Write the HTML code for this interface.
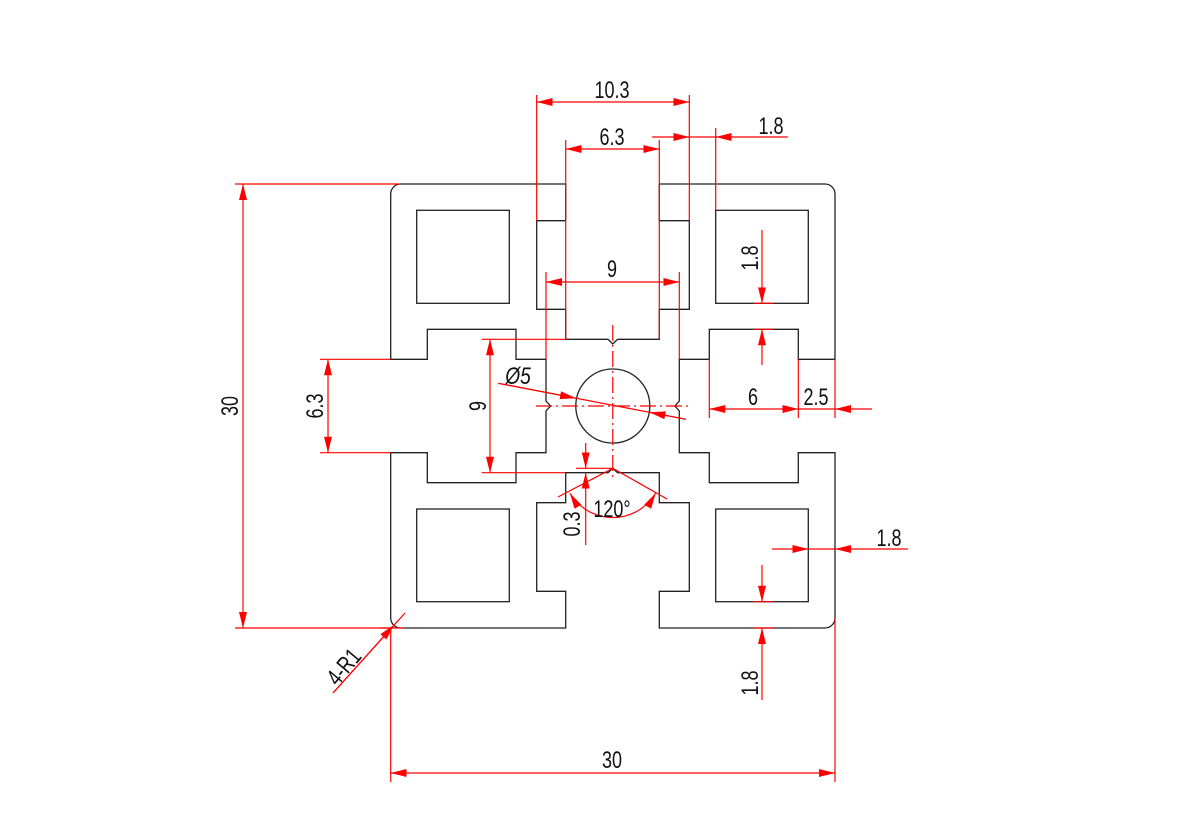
<!DOCTYPE html>
<html><head><meta charset="utf-8"><style>
html,body{margin:0;padding:0;background:#fff;}
svg{display:block;}
text{font-family:"Liberation Sans",sans-serif;font-size:24px;fill:#111;}
</style></head><body>
<svg width="1179" height="838" viewBox="0 0 1179 838" xmlns="http://www.w3.org/2000/svg">
<defs>
<marker id="a" markerUnits="userSpaceOnUse" markerWidth="17" markerHeight="9" refX="16" refY="4" orient="auto-start-reverse">
<path d="M0,0 L16,4 L0,8 z" fill="#ff0000"/>
</marker>
</defs>
<g fill="none" stroke="#222" stroke-width="1.3">
<path d="M400.7,184 H565.7 V220.7 H536.7 V309.3 H565.7 V339.3 H608 L612.8,344 L617.6,339.3 H659.3 V309.3 H689.3 V220.7 H659.3 V184 H825 A10,10 0 0 1 835,194 V359.3 H798.3 V329.3 H709.3 V359.3 H679.3 V401 L675,406 L679.3,411 V452.7 H709.3 V482.7 H798.3 V452.7 H835 V618 A10,10 0 0 1 825,628 H659.3 V591.3 H689.3 V502.7 H659.3 V472.7 H617.6 L612.8,468.3 L608,472.7 H565.7 V502.7 H536.7 V591.3 H565.7 V628 H400.7 A10,10 0 0 1 390.7,618 V452.7 H427.3 V482.7 H516 V452.7 H546 V411 L550.5,406 L546,401 V359.3 H516 V329.3 H427.3 V359.3 H390.7 V194 A10,10 0 0 1 400.7,184 Z"/>
<rect x="416.7" y="210.3" width="92.6" height="93"/>
<rect x="715.7" y="210.3" width="92.6" height="93"/>
<rect x="416.7" y="509" width="92.6" height="92.7"/>
<rect x="715.7" y="509" width="92.6" height="92.7"/>
<circle cx="612.8" cy="406" r="37"/>
</g>
<g stroke="#ff0000" stroke-width="1.2" fill="none">
<line x1="612.8" y1="325" x2="612.8" y2="478" stroke-dasharray="16 4 2 4"/>
<line x1="536" y1="406" x2="690" y2="406" stroke-dasharray="16 4 2 4"/>
<line x1="536.7" y1="95" x2="536.7" y2="220.7"/>
<line x1="689.3" y1="95" x2="689.3" y2="220.7"/>
<line x1="536.7" y1="102" x2="689.3" y2="102" marker-start="url(#a)" marker-end="url(#a)"/>
<line x1="565.7" y1="140" x2="565.7" y2="339.3"/>
<line x1="659.3" y1="140" x2="659.3" y2="339.3"/>
<line x1="565.7" y1="149" x2="659.3" y2="149" marker-start="url(#a)" marker-end="url(#a)"/>
<line x1="715.7" y1="128" x2="715.7" y2="210.3"/>
<line x1="652" y1="137" x2="689.3" y2="137" marker-end="url(#a)"/>
<line x1="689.3" y1="137" x2="715.7" y2="137"/>
<line x1="788" y1="137" x2="715.7" y2="137" marker-end="url(#a)"/>
<line x1="546" y1="272" x2="546" y2="359.3"/>
<line x1="679.3" y1="272" x2="679.3" y2="359.3"/>
<line x1="546" y1="282" x2="679.3" y2="282" marker-start="url(#a)" marker-end="url(#a)"/>
<line x1="235" y1="184" x2="400" y2="184"/>
<line x1="235" y1="628" x2="390.7" y2="628"/>
<line x1="243" y1="184" x2="243" y2="628" marker-start="url(#a)" marker-end="url(#a)"/>
<line x1="320" y1="359.3" x2="390.7" y2="359.3"/>
<line x1="320" y1="452.7" x2="390.7" y2="452.7"/>
<line x1="328" y1="359.3" x2="328" y2="452.7" marker-start="url(#a)" marker-end="url(#a)"/>
<line x1="481.7" y1="339.3" x2="565.7" y2="339.3"/>
<line x1="481.7" y1="472.7" x2="565.7" y2="472.7"/>
<line x1="490" y1="339.3" x2="490" y2="472.7" marker-start="url(#a)" marker-end="url(#a)"/>
<line x1="498.3" y1="383.3" x2="686" y2="419.3"/>
<line x1="498.3" y1="383.3" x2="576" y2="398.2" marker-end="url(#a)"/>
<line x1="686" y1="419.3" x2="649.5" y2="412.3" marker-end="url(#a)"/>
<line x1="576" y1="468.3" x2="613" y2="468.3"/>
<line x1="585.7" y1="443" x2="585.7" y2="468.3" marker-end="url(#a)"/>
<line x1="585.7" y1="545" x2="585.7" y2="472.7" marker-end="url(#a)"/>
<line x1="612.8" y1="468.3" x2="558" y2="497"/>
<line x1="612.8" y1="468.3" x2="667" y2="499"/>
<path d="M569.8,493 A50,50 0 0 0 655.8,493" marker-start="url(#a)" marker-end="url(#a)"/>
<line x1="762" y1="230" x2="762" y2="303.3" marker-end="url(#a)"/>
<line x1="762" y1="365" x2="762" y2="329.3" marker-end="url(#a)"/>
<line x1="753" y1="303.3" x2="773" y2="303.3"/>
<line x1="753" y1="329.3" x2="773" y2="329.3"/>
<line x1="709.3" y1="359.3" x2="709.3" y2="418"/>
<line x1="798.3" y1="359.3" x2="798.3" y2="418"/>
<line x1="835" y1="359.3" x2="835" y2="418"/>
<line x1="709.3" y1="409" x2="798.3" y2="409" marker-start="url(#a)" marker-end="url(#a)"/>
<line x1="798.3" y1="409" x2="835" y2="409"/>
<line x1="872" y1="409" x2="835" y2="409" marker-end="url(#a)"/>
<line x1="772" y1="549" x2="808.3" y2="549" marker-end="url(#a)"/>
<line x1="808.3" y1="549" x2="835" y2="549"/>
<line x1="908" y1="549" x2="835" y2="549" marker-end="url(#a)"/>
<line x1="762" y1="565" x2="762" y2="601.7" marker-end="url(#a)"/>
<line x1="762" y1="700" x2="762" y2="628" marker-end="url(#a)"/>
<line x1="753" y1="601.7" x2="773" y2="601.7"/>
<line x1="753" y1="628" x2="773" y2="628"/>
<line x1="390.7" y1="628" x2="390.7" y2="782"/>
<line x1="835" y1="618" x2="835" y2="782"/>
<line x1="390.7" y1="773" x2="835" y2="773" marker-start="url(#a)" marker-end="url(#a)"/>
<line x1="405" y1="613" x2="333" y2="693"/>
<line x1="333" y1="693" x2="394" y2="625" marker-end="url(#a)"/>
<line x1="380" y1="628" x2="404" y2="628"/>
</g>
<g text-anchor="middle">
<text transform="translate(612,98) scale(0.75,1)">10.3</text>
<text transform="translate(612,145) scale(0.75,1)">6.3</text>
<text transform="translate(771,134) scale(0.75,1)">1.8</text>
<text transform="translate(612,277) scale(0.75,1)">9</text>
<text transform="translate(753,405) scale(0.75,1)">6</text>
<text transform="translate(816,405) scale(0.75,1)">2.5</text>
<text transform="translate(889,546) scale(0.75,1)">1.8</text>
<text transform="translate(612,768) scale(0.75,1)">30</text>
<text transform="translate(612,517) scale(0.75,1)">120°</text>
<text transform="translate(518,384) scale(0.8,1)" font-style="italic">Ø5</text>
<text transform="translate(238,406) rotate(-90) scale(0.75,1)">30</text>
<text transform="translate(323,406) rotate(-90) scale(0.75,1)">6.3</text>
<text transform="translate(486,406) rotate(-90) scale(0.75,1)">9</text>
<text transform="translate(580,524) rotate(-90) scale(0.75,1)">0.3</text>
<text transform="translate(758,258) rotate(-90) scale(0.75,1)">1.8</text>
<text transform="translate(758,683) rotate(-90) scale(0.75,1)">1.8</text>
<text transform="translate(350,672) rotate(-50) scale(0.75,1)">4-R1</text>
</g>
</svg>
</body></html>
